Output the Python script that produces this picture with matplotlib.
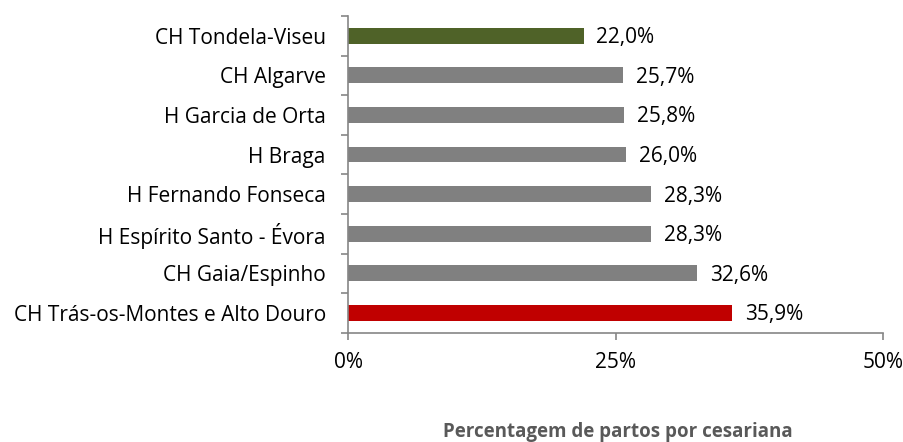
import matplotlib.pyplot as plt
import numpy as np

hospitais = ['CH Trás-os-Montes e Alto Douro', 'CH Gaia/Espinho', 'H Espírito Santo - Évora',
             'H Fernando Fonseca', 'H Braga', 'H Garcia de Orta', 'CH Algarve', 'CH Tondela-Viseu']
percentagens = [35.9, 32.6, 28.3, 28.3, 26.0, 25.8, 25.7, 22.0]
cores = ['#C00000', '#808080', '#808080', '#808080', '#808080', '#808080', '#808080', '#4F6228']
xticks = [0, 25, 50]

plt.rcParams['font.family'] = ['Open Sans', 'DejaVu Sans']

fig = plt.figure(figsize=(9.04, 4.42), dpi=100)
ax = fig.add_axes([0.385, 0.247, 0.592, 0.717])

y = np.arange(len(hospitais))
ax.barh(y, percentagens, height=0.4, color=cores)

# rótulos com os valores, vírgula decimal
for yi, v in zip(y, percentagens):
    ax.text(v + 1.2, yi - 0.05, f'{v:.1f}%'.replace('.', ','), va='center', ha='left',
            fontsize=15, color='#000000')

ax.set_xlim(0, 50)
ax.set_ylim(-0.5, len(hospitais) - 0.5)
ax.set_xticks(xticks)
ax.set_xticklabels([f'{t}%' for t in xticks], fontsize=15)
ax.set_yticks(y)
ax.set_yticklabels(hospitais, fontsize=15)
ax.set_yticks(np.arange(-0.5, len(hospitais)), minor=True)
ax.tick_params(axis='y', which='major', length=0, pad=16)
ax.tick_params(axis='y', which='minor', length=5, color='#868686', width=1.2)
ax.tick_params(axis='x', length=5, color='#868686', width=1.2, pad=9)

for s in ['top', 'right']:
    ax.spines[s].set_visible(False)
for s in ['left', 'bottom']:
    ax.spines[s].set_color('#868686')
    ax.spines[s].set_linewidth(1.2)

fig.text(0.683, 0.023, 'Percentagem de partos por cesariana', fontsize=13.5, fontweight='bold',
         color='#595959', ha='center', va='center')

fig.savefig('out.png', dpi=100)
